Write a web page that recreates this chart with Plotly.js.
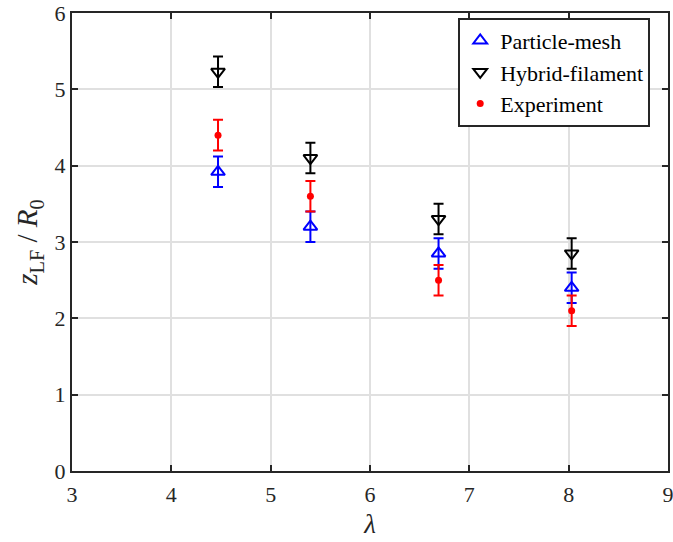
<!DOCTYPE html>
<html><head><meta charset="utf-8">
<script src="https://cdn.plot.ly/plotly-3.0.1.min.js"></script>
<style>body{margin:0;background:#fff}#c{width:673px;height:542px}</style>
</head><body><div id="c"></div>
<script>
var lambda = [4.47, 5.4, 6.69, 8.03];
var particleMesh = [3.92, 3.2, 2.85, 2.4];
var particleMeshErr = [0.2, 0.2, 0.2, 0.2];
var hybridFilament = [5.23, 4.1, 3.3, 2.85];
var hybridFilamentErr = [0.2, 0.2, 0.2, 0.2];
var experiment = [4.4, 3.6, 2.5, 2.1];
var experimentErr = [0.2, 0.2, 0.2, 0.2];

var FONT = 'Liberation Serif';

var traces = [
  {x: lambda, y: particleMesh, name: 'Particle-mesh', type: 'scatter', mode: 'markers',
   marker: {symbol: 'triangle-up-open', size: 12, color: '#0000ff', line: {width: 2, color: '#0000ff'}},
   error_y: {type: 'data', array: particleMeshErr, visible: true, color: '#0000ff', thickness: 2, width: 5}},
  {x: lambda, y: hybridFilament, name: 'Hybrid-filament', type: 'scatter', mode: 'markers',
   marker: {symbol: 'triangle-down-open', size: 12, color: '#000000', line: {width: 2, color: '#000000'}},
   error_y: {type: 'data', array: hybridFilamentErr, visible: true, color: '#000000', thickness: 2, width: 5}},
  {x: lambda, y: experiment, name: 'Experiment', type: 'scatter', mode: 'markers',
   marker: {symbol: 'circle', size: 7, color: '#ff0000'},
   error_y: {type: 'data', array: experimentErr, visible: true, color: '#ff0000', thickness: 2, width: 5}}
];

var axisCommon = {
  showline: true, mirror: 'ticks', linecolor: '#262626', linewidth: 2,
  ticks: 'inside', ticklen: 6, tickwidth: 2, tickcolor: '#262626',
  showgrid: true, gridcolor: '#e0e0e0', gridwidth: 2, zeroline: false,
  ticklabeloverflow: 'allow',
  tickfont: {family: FONT, size: 22, color: '#262626'}
};

var layout = {
  width: 673, height: 542,
  margin: {l: 72, r: 5, t: 13, b: 71},
  paper_bgcolor: '#ffffff', plot_bgcolor: '#ffffff',
  showlegend: true,
  font: {family: FONT, size: 22, color: '#262626'},
  xaxis: Object.assign({}, axisCommon, {range: [3, 9], dtick: 1, tick0: 3, ticklabelstandoff: 3,
    title: {text: '<i>λ</i>', font: {family: FONT, size: 27, color: '#262626'}, standoff: 8}}),
  yaxis: Object.assign({}, axisCommon, {range: [0, 6], dtick: 1, tick0: 0,
    title: {text: '<i>z</i><sub>LF</sub> / <i>R</i><sub>0</sub>', font: {family: FONT, size: 29, color: '#262626'}, standoff: 8}}),
  legend: {x: 0.648, y: 0.99, xanchor: 'left', yanchor: 'top',
    bgcolor: '#ffffff', bordercolor: '#262626', borderwidth: 2,
    font: {family: FONT, size: 22, color: '#000000'},
    tracegroupgap: 0, itemwidth: 30}
};

Plotly.newPlot('c', traces, layout, {displayModeBar: false, staticPlot: true});
</script></body></html>
